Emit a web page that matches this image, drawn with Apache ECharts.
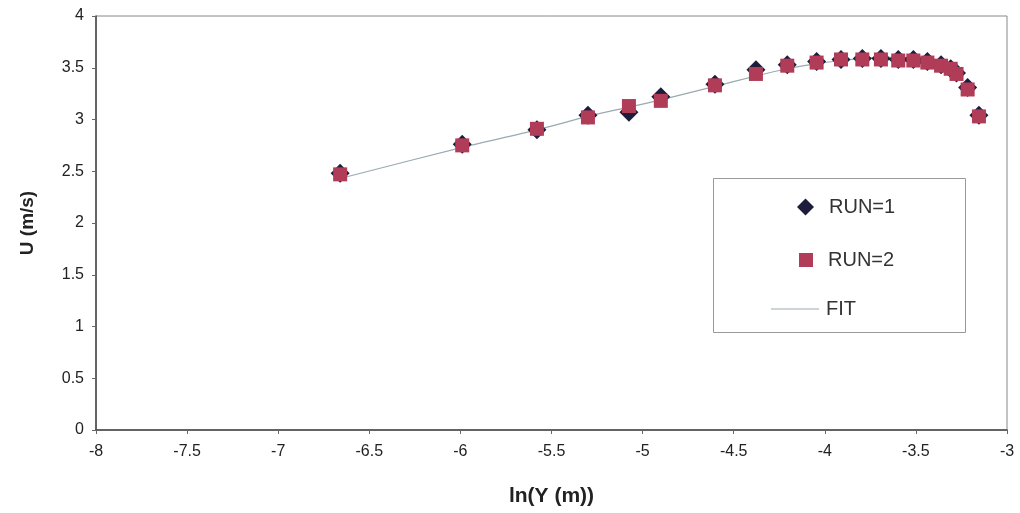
<!DOCTYPE html>
<html><head><meta charset="utf-8">
<script src="https://cdn.jsdelivr.net/npm/echarts@6/dist/echarts.min.js"></script>
<style>html,body{margin:0;padding:0;background:#fff}#c{width:1020px;height:513px}</style>
</head><body><div id="c"></div>
<script>
// ln(Y) positions
const lnY = [-6.66, -5.99, -5.58, -5.30, -5.075, -4.90, -4.603, -4.378, -4.206, -4.045, -3.911, -3.794, -3.692, -3.597, -3.514, -3.437, -3.362, -3.309, -3.277, -3.216, -3.154];
const run1U = [2.48, 2.76, 2.90, 3.04, 3.07, 3.22, 3.34, 3.48, 3.53, 3.56, 3.58, 3.59, 3.59, 3.58, 3.58, 3.56, 3.53, 3.49, 3.45, 3.31, 3.04];
const run2U = [2.47, 2.75, 2.91, 3.02, 3.13, 3.18, 3.33, 3.44, 3.52, 3.55, 3.58, 3.58, 3.58, 3.57, 3.57, 3.55, 3.52, 3.49, 3.44, 3.29, 3.03];
const fitX = [-6.66, -5.99, -5.58, -5.30, -5.075, -4.90, -4.603, -4.378, -4.206, -4.045, -3.911, -3.794, -3.692, -3.597];
const fitU = [2.43, 2.73, 2.90, 3.03, 3.12, 3.19, 3.32, 3.42, 3.49, 3.54, 3.57, 3.59, 3.60, 3.60];
const xTicks = [-8, -7.5, -7, -6.5, -6, -5.5, -5, -4.5, -4, -3.5, -3];
const yTicks = [0, 0.5, 1, 1.5, 2, 2.5, 3, 3.5, 4];

const zip = (a, b) => a.map((v, i) => [v, b[i]]);
const FONT = "'Liberation Sans', Arial, sans-serif";
const NARROW = "'Liberation Sans Narrow', 'Liberation Sans', Arial, sans-serif";

const chart = echarts.init(document.getElementById('c'), null, {renderer: 'canvas'});
const legendBase = {
  orient: 'vertical', left: 792, itemGap: 0,
  textStyle: {fontFamily: FONT, fontSize: 20, color: '#333', padding: [0, 0, 0, 10]},
  selectedMode: false
};
chart.setOption({
  animation: false,
  backgroundColor: '#fff',
  grid: {left: 96, right: 13, top: 16, bottom: 83, show: true, borderColor: '#888', borderWidth: 1},
  xAxis: {
    type: 'value', min: -8, max: -3, interval: 0.5,
    name: 'ln(Y (m))', nameLocation: 'middle', nameGap: 56,
    nameTextStyle: {fontFamily: NARROW, fontSize: 21, fontWeight: 'bold', color: '#222'},
    axisLine: {onZero: false, lineStyle: {color: '#444', width: 1.5}},
    axisTick: {show: true, length: 4, lineStyle: {color: '#666'}},
    axisLabel: {fontFamily: NARROW, fontSize: 16, color: '#222', margin: 14,
      formatter: v => String(v)},
    splitLine: {show: false}
  },
  yAxis: {
    type: 'value', min: 0, max: 4, interval: 0.5,
    name: 'U (m/s)', nameLocation: 'middle', nameGap: 59,
    nameTextStyle: {fontFamily: FONT, fontSize: 19, fontWeight: 'bold', color: '#222'},
    axisLine: {show: true, lineStyle: {color: '#444', width: 1.5}},
    axisTick: {show: true, length: 4, lineStyle: {color: '#666'}},
    axisLabel: {fontFamily: FONT, fontSize: 16, color: '#222', margin: 12,
      formatter: v => String(v)},
    splitLine: {show: false}
  },
  legend: [
    Object.assign({}, legendBase, {top: 192, data: [{name: 'RUN=1', icon: 'diamond'}], itemWidth: 17, itemHeight: 17}),
    Object.assign({}, legendBase, {top: 245, data: [{name: 'RUN=2', icon: 'rect'}], itemWidth: 14, itemHeight: 14, left: 794}),
    Object.assign({}, legendBase, {top: 294, left: 766, data: [{name: 'FIT', icon: 'rect',
        itemStyle: {color: '#9aaab0', borderWidth: 0}}], itemWidth: 48, itemHeight: 1,
      textStyle: {fontFamily: FONT, fontSize: 20, color: '#333', padding: [0, 0, 0, 2]}})
  ],
  graphic: [{
    type: 'rect', left: 713, top: 178, shape: {width: 252, height: 154},
    style: {fill: 'rgba(0,0,0,0)', stroke: '#999', lineWidth: 1}, z: -1
  }],
  series: [
    {
      name: 'FIT', type: 'line', data: zip(fitX, fitU), showSymbol: false, smooth: 0.3,
      lineStyle: {color: '#9aaab0', width: 1.2}, itemStyle: {color: '#9aaab0'}, z: 1
    },
    {
      name: 'RUN=1', type: 'scatter', data: zip(lnY, run1U), symbol: 'diamond', symbolSize: 19,
      itemStyle: {color: '#1c1c3c', opacity: 1}, z: 2
    },
    {
      name: 'RUN=2', type: 'scatter', data: zip(lnY, run2U), symbol: 'rect', symbolSize: 14,
      itemStyle: {color: '#b03c58', opacity: 1}, z: 3
    }
  ]
});
</script></body></html>
